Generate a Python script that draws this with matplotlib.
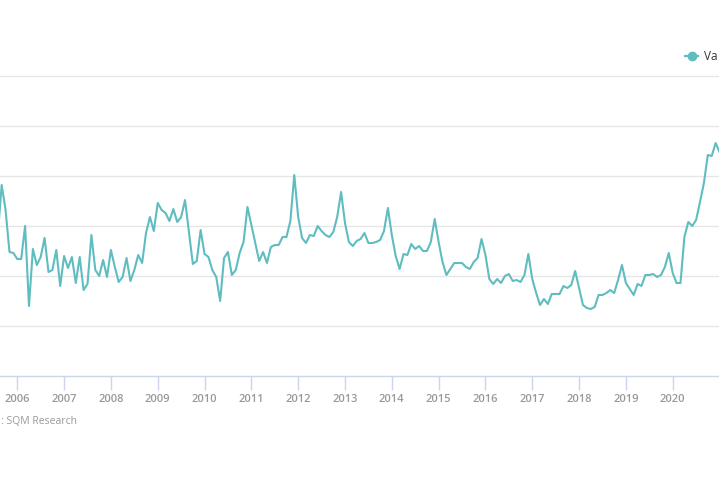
import matplotlib.pyplot as plt
import numpy as np

# monthly vacancy values, Aug 2005 .. Jan 2021 (%)
start_year, start_month = 2005, 8
values = [
    1.41, 1.91, 1.66, 1.24, 1.23,                                        # 2005 Aug-Dec
    1.17, 1.17, 1.50, 0.70, 1.27, 1.11, 1.19, 1.38, 1.04, 1.06, 1.26, 0.90,  # 2006
    1.20, 1.08, 1.19, 0.93, 1.19, 0.86, 0.92, 1.41, 1.06, 1.00, 1.16, 0.99,  # 2007
    1.26, 1.09, 0.94, 0.99, 1.18, 0.95, 1.06, 1.21, 1.13, 1.43, 1.59, 1.45,  # 2008
    1.73, 1.66, 1.63, 1.55, 1.67, 1.54, 1.59, 1.76, 1.44, 1.12, 1.15, 1.46,  # 2009
    1.22, 1.19, 1.06, 0.99, 0.75, 1.18, 1.24, 1.01, 1.06, 1.23, 1.34, 1.69,  # 2010
    1.51, 1.33, 1.15, 1.24, 1.13, 1.29, 1.31, 1.31, 1.39, 1.39, 1.55, 2.01,  # 2011
    1.59, 1.38, 1.33, 1.41, 1.40, 1.50, 1.45, 1.41, 1.39, 1.44, 1.59, 1.84,  # 2012
    1.53, 1.34, 1.30, 1.35, 1.37, 1.43, 1.33, 1.33, 1.34, 1.36, 1.45, 1.68,  # 2013
    1.41, 1.20, 1.07, 1.22, 1.21, 1.32, 1.27, 1.30, 1.25, 1.25, 1.34, 1.57,  # 2014
    1.34, 1.14, 1.01, 1.07, 1.13, 1.13, 1.13, 1.09, 1.07, 1.14, 1.18, 1.37,  # 2015
    1.21, 0.97, 0.92, 0.97, 0.93, 1.00, 1.02, 0.95, 0.96, 0.94, 1.01, 1.22,  # 2016
    0.97, 0.83, 0.71, 0.77, 0.72, 0.82, 0.82, 0.82, 0.90, 0.88, 0.91, 1.05,  # 2017
    0.88, 0.71, 0.68, 0.67, 0.69, 0.81, 0.81, 0.83, 0.86, 0.83, 0.96, 1.11,  # 2018
    0.93, 0.87, 0.81, 0.92, 0.90, 1.01, 1.01, 1.02, 0.99, 1.01, 1.09, 1.23,  # 2019
    1.03, 0.93, 0.93, 1.39, 1.54, 1.50, 1.56, 1.74, 1.93, 2.21, 2.20, 2.33,  # 2020
    2.24,                                                                 # 2021 Jan
]
years = list(range(2006, 2021))
series_name = 'Va'
source = ': SQM Research'

line_color = '#5fbdc0'
grid_color = '#e6e6e6'
axis_color = '#ccd6eb'
label_color = '#999999'

# month index relative to Jan 2006
x = np.arange(len(values)) + (start_year - 2006) * 12 + (start_month - 1)

fig = plt.figure(figsize=(7.19, 4.79), dpi=100)
ax = fig.add_axes([0, 103 / 479, 1, 301 / 479])

ax.plot(x, values, color=line_color, lw=1.5, solid_joinstyle='round', zorder=3)

ax.set_xlim(-4.43, 179.87)
ax.set_ylim(0, 3.01)

ax.set_yticks(np.arange(0.5, 3.01, 0.5))
ax.yaxis.grid(True, color=grid_color, lw=1)
ax.tick_params(axis='y', left=False, labelleft=False)

tick_pos = [(y - 2006) * 12 for y in years]
ax.set_xticks(tick_pos)
ax.set_xticklabels([str(y) for y in years])
ax.tick_params(axis='x', length=10, width=1, color=axis_color, labelcolor=label_color,
               labelsize=8, pad=3)
for lab in ax.get_xticklabels():
    lab.set_family('Open Sans')
    lab.set_fontweight('semibold')

for s in ['top', 'left', 'right']:
    ax.spines[s].set_visible(False)
ax.spines['bottom'].set_color(axis_color)
ax.spines['bottom'].set_linewidth(1)

# legend (sits at the right edge in the reference)
leg_y = 1 - 56 / 479
fig.add_artist(plt.Line2D([685 / 719, 698 / 719], [leg_y, leg_y], color=line_color, lw=1.6,
                          transform=fig.transFigure))
fig.add_artist(plt.Line2D([691.5 / 719], [leg_y], color=line_color, marker='o',
                          markersize=6, transform=fig.transFigure))
fig.text(704 / 719, leg_y, series_name, color='#333333', fontsize=8.5,
         family='Open Sans', ha='left', va='center')

fig.text(1 / 719, 1 - 421 / 479, source, color=label_color, fontsize=7.5,
         family='Open Sans', ha='left', va='center')

fig.savefig('out.png', dpi=100)
